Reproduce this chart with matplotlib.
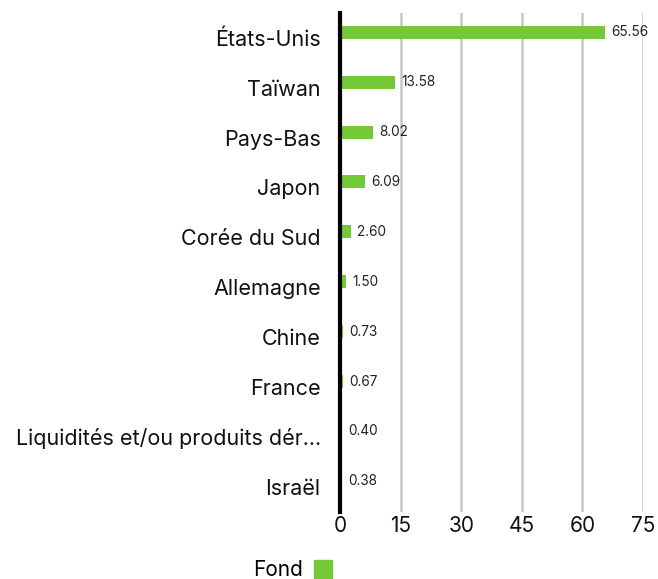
import matplotlib.pyplot as plt
from matplotlib.patches import Patch

pays = ["États-Unis", "Taïwan", "Pays-Bas", "Japon", "Corée du Sud", "Allemagne",
        "Chine", "France", "Liquidités et/ou produits dér...", "Israël"]
fond = [65.56, 13.58, 8.02, 6.09, 2.60, 1.50, 0.73, 0.67, 0.40, 0.38]
ticks_x = [0, 15, 30, 45, 60, 75]

vert = "#74c936"
plt.rcParams['font.family'] = ['Inter', 'DejaVu Sans']

fig = plt.figure(figsize=(6.58, 5.79), dpi=100)
ax = fig.add_axes([0.517, 0.116, 0.46, 0.862])

pos = list(range(len(pays)))
ax.barh([p - 0.11 for p in pos], fond, height=0.26, color=vert, zorder=3)
for p, v in zip(pos, fond):
    ax.text(v + 1.6, p - 0.11, f"{v:.2f}", va="center", ha="left", fontsize=9.8, color="#222222")

ax.set_xlim(0, 75)
ax.set_ylim(len(pays) - 0.5, -0.5)
ax.set_xticks(ticks_x)
ax.set_xticklabels([str(t) for t in ticks_x], fontsize=15)
ax.set_yticks(pos)
ax.set_yticklabels(pays, fontsize=15.5)
ax.tick_params(axis="both", length=0, colors="#111111")
ax.tick_params(axis="y", pad=14)
ax.tick_params(axis="x", pad=3)

for s in ["top", "right", "bottom"]:
    ax.spines[s].set_visible(False)
ax.spines["left"].set_linewidth(3)
ax.spines["left"].set_color("black")
ax.spines["left"].set_zorder(5)

ax.grid(axis="x", color="#c8c8c8", linewidth=1.8, zorder=0)
ax.set_axisbelow(True)

fig.legend(handles=[Patch(color=vert, label="Fond")], loc="center",
           bbox_to_anchor=(0.445, 0.015), frameon=False, fontsize=15,
           markerfirst=False, handlelength=0.9, handleheight=0.9, handletextpad=0.5)

fig.savefig("out.png", dpi=100)
